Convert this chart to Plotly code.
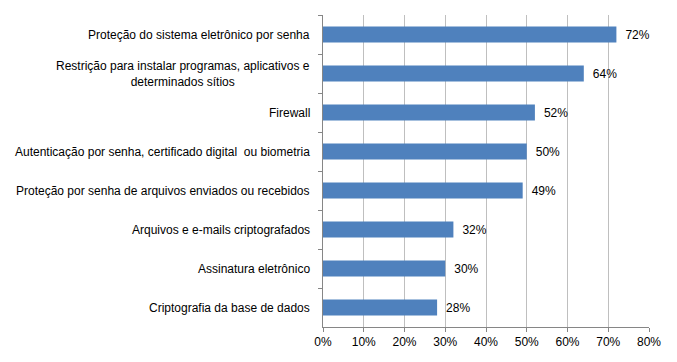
import plotly.graph_objects as go

categories = [
    "Proteção do sistema eletrônico por senha",
    "Restrição para instalar programas, aplicativos e<br>determinados sítios",
    "Firewall",
    "Autenticação por senha, certificado digital  ou biometria",
    "Proteção por senha de arquivos enviados ou recebidos",
    "Arquivos e e-mails criptografados",
    "Assinatura eletrônico",
    "Criptografia da base de dados",
]
values = [0.72, 0.64, 0.52, 0.50, 0.49, 0.32, 0.30, 0.28]
tick_vals = [0, 0.1, 0.2, 0.3, 0.4, 0.5, 0.6, 0.7, 0.8]
tick_text = ["0%", "10%", "20%", "30%", "40%", "50%", "60%", "70%", "80%"]

FONT = "Liberation Sans"

fig = go.Figure(
    go.Bar(
        x=values,
        y=categories,
        orientation="h",
        marker=dict(color="#4F81BD", line=dict(width=0)),
        width=0.41,
        text=[f"\u2002{round(v*100)}%" for v in values],
        textposition="outside",
        textfont=dict(family=FONT, size=12, color="#000000"),
        cliponaxis=False,
    )
)

for c in categories:
    fig.add_annotation(
        x=0, xref="paper", y=c, yref="y",
        text=c, showarrow=False,
        xanchor="right", yanchor="middle", align="center",
        xshift=-11,
        font=dict(family=FONT, size=12, color="#000000"),
    )

fig.update_layout(
    width=677, height=362,
    margin=dict(l=315, r=36, t=7, b=43),
    paper_bgcolor="white", plot_bgcolor="white",
    showlegend=False,
    font=dict(family=FONT, size=12, color="#000000"),
    bargap=0.59,
)
fig.update_xaxes(
    range=[0, 0.8],
    tickvals=tick_vals, ticktext=tick_text,
    showgrid=True, gridcolor="#BFBFBF", gridwidth=1,
    showline=True, linecolor="#868686", linewidth=1,
    ticks="outside", ticklen=4, tickcolor="#868686",
    zeroline=False,
    tickfont=dict(family=FONT, size=12, color="#000000"),
)
fig.update_yaxes(
    autorange="reversed",
    showticklabels=False,
    showline=True, linecolor="#868686", linewidth=1,
    ticks="outside", ticklen=4, tickcolor="#868686",
    tickson="boundaries",
    showgrid=False,
)

fig.write_html("out.html")
